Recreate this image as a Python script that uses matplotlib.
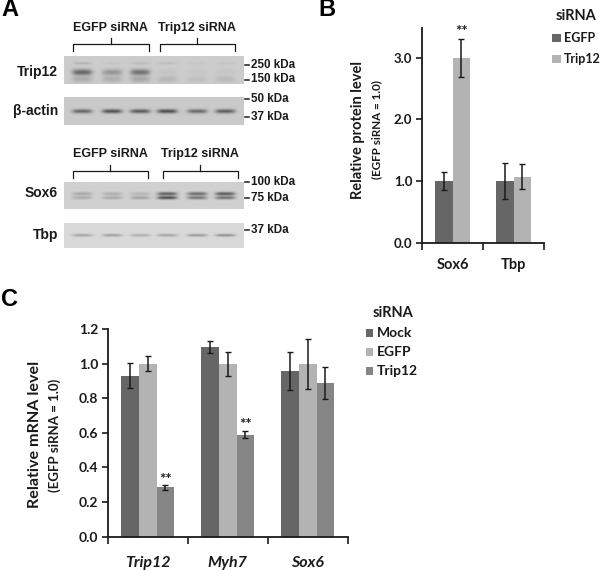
import numpy as np
import matplotlib
matplotlib.use('Agg')
import matplotlib.pyplot as plt

plt.rcParams['font.family'] = ['Lato', 'DejaVu Sans']
W, H = 600, 570
INK = '#1a1a1a'

# panel B
b_groups = ['Sox6', 'Tbp']
b_egfp = [1.0, 1.0]
b_trip12 = [3.0, 1.07]
b_egfp_err = [0.14, 0.29]
b_trip12_err = [0.31, 0.20]
b_ticks = [0.0, 1.0, 2.0, 3.0]

# panel C
c_groups = ['Trip12', 'Myh7', 'Sox6']
c_mock = [0.93, 1.095, 0.96]
c_egfp = [1.0, 1.0, 1.0]
c_trip12 = [0.285, 0.59, 0.89]
c_mock_err = [0.073, 0.033, 0.11]
c_egfp_err = [0.044, 0.07, 0.145]
c_trip12_err = [0.016, 0.022, 0.093]
c_ticks = [0.0, 0.2, 0.4, 0.6, 0.8, 1.0, 1.2]

# western blots, band strength per lane
lanes = [82, 112, 140, 167, 197, 225]
trip12_main = [0.62, 0.34, 0.55, 0.05, 0.03, 0.04]
trip12_upper = [0.16, 0.06, 0.12, 0.10, 0.04, 0.06]
trip12_lower = [0.20, 0.18, 0.22, 0.13, 0.08, 0.11]
actin_band = [0.62, 0.75, 0.70, 0.78, 0.60, 0.68]
sox6_upper = [0.24, 0.20, 0.16, 0.68, 0.62, 0.72]
sox6_lower = [0.22, 0.24, 0.28, 0.80, 0.55, 0.58]
tbp_band = [0.32, 0.34, 0.26, 0.32, 0.38, 0.44]


def px_axes(x0, y0, x1, y1):
    return fig.add_axes([x0 / W, 1 - y1 / H, (x1 - x0) / W, (y1 - y0) / H])


def blot(box, bg, bands):
    # bands: (y position, strength per lane, half width, half height)
    x0, y0, x1, y1 = box
    xx, yy = np.meshgrid(np.arange(x0, x1, 0.5), np.arange(y0, y1, 0.5))
    img = np.full(xx.shape, float(bg))
    for y, strengths, hw, hh in bands:
        for lx, s in zip(lanes, strengths):
            d = np.exp(-((xx - lx) / hw) ** 4 - ((yy - y) / hh) ** 2)
            img -= s * d * bg * 0.8
    over.imshow(img, cmap='gray', vmin=0, vmax=1, aspect='auto',
                extent=(x0, x1, y1, y0), interpolation='bilinear', zorder=1)


def bracket(x0, x1, y, tip=7):
    xm = (x0 + x1) / 2
    over.plot([x0, x0, x1, x1], [y + tip, y, y, y + tip], color=INK, lw=0.9, zorder=3)
    over.plot([xm, xm], [y, y - 6], color=INK, lw=0.9, zorder=3)


def style_axes(ax, ymax, ticks, groups, label_size, tick_size, italic=False):
    n = len(groups)
    ax.set_xlim(0, n)
    ax.set_ylim(0, ymax)
    ax.patch.set_alpha(0)
    for s in ['top', 'right']:
        ax.spines[s].set_visible(False)
    for s in ['left', 'bottom']:
        ax.spines[s].set_linewidth(1.3)
        ax.spines[s].set_color(INK)
    ax.set_xticks(np.arange(n + 1))
    ax.set_xticklabels([])
    ax.set_xticks(np.arange(n) + 0.5, minor=True)
    ax.set_xticklabels(groups, minor=True, fontsize=label_size, fontweight='bold', color=INK,
                       style='italic' if italic else 'normal')
    ax.tick_params(axis='x', which='minor', length=0, pad=14 if italic else 11)
    ax.tick_params(axis='x', which='major', length=5, width=1.2, color=INK)
    ax.set_yticks(ticks)
    ax.set_yticklabels([f'{t:.1f}' for t in ticks], fontsize=tick_size, fontweight='bold', color=INK)
    ax.tick_params(axis='y', length=4, width=1.2, color=INK, pad=3)


def bars(ax, series, errs, colors, width):
    n = len(series)
    x = np.arange(len(series[0])) + 0.5
    for i, (vals, err, col) in enumerate(zip(series, errs, colors)):
        ax.bar(x + (i - (n - 1) / 2) * width, vals, width, color=col, yerr=err,
               error_kw=dict(ecolor=INK, elinewidth=1.1, capsize=2.4, capthick=1.0))


fig = plt.figure(figsize=(W / 100, H / 100), dpi=100)

# overlay in pixel coordinates for the blots and the free text
over = fig.add_axes([0, 0, 1, 1], zorder=0)
over.axis('off')

blot((64, 56, 244, 84), 0.80, [(72, trip12_main, 10, 3.0), (63, trip12_upper, 9, 1.2), (79, trip12_lower, 10, 3.0)])
blot((64, 97, 244, 125), 0.79, [(111, actin_band, 10, 2.0)])
blot((64, 182, 244, 209), 0.82, [(193.5, sox6_upper, 10, 1.7), (197.5, sox6_lower, 10, 1.6)])
blot((64, 223, 244, 248), 0.85, [(235, tbp_band, 10, 1.3)])

over.set_xlim(0, W)
over.set_ylim(H, 0)

sans = ['Liberation Sans', 'DejaVu Sans']
for x, y, s in [(1, 10, 'A'), (318, 10, 'B'), (1, 299, 'C')]:
    over.text(x, y, s, fontsize=17, fontweight='bold', family=sans, va='center', color='black')

for x, y, s in [(110.5, 28, 'EGFP siRNA'), (197, 28, 'Trip12 siRNA'),
                (110, 154, 'EGFP siRNA'), (200, 154, 'Trip12 siRNA')]:
    over.text(x, y, s, fontsize=9, fontweight='bold', family=sans, ha='center', va='center', color=INK)
bracket(73, 148.5, 44)
bracket(160, 234.5, 44)
bracket(72.5, 147.5, 171)
bracket(163, 237.5, 171)

for y, s in [(72, 'Trip12'), (110.5, 'β-actin'), (193, 'Sox6'), (235, 'Tbp')]:
    over.text(58, y, s, fontsize=10, fontweight='bold', family=sans, ha='right', va='center', color=INK)

for y, s in [(65, '250 kDa'), (79.5, '150 kDa'), (99, '50 kDa'), (117, '37 kDa'),
             (182, '100 kDa'), (198, '75 kDa'), (230, '37 kDa')]:
    over.plot([245, 249], [y, y], color=INK, lw=1.1)
    over.text(251, y, s, fontsize=8.4, fontweight='bold', family=sans, va='center', color=INK)

# panel B
ax_b = px_axes(422, 27.7, 544, 242.7)
bars(ax_b, [b_egfp, b_trip12], [b_egfp_err, b_trip12_err], ['#666666', '#b3b3b3'], 0.287)
style_axes(ax_b, 3.49, b_ticks, b_groups, 10.5, 9.5)
ax_b.text(0.5 + 0.287 / 2, 3.30, '**', ha='center', va='bottom', fontsize=11, fontweight='bold', color=INK)

over.text(358, 130, 'Relative protein level', rotation=90, fontsize=10.5, fontweight='bold',
          ha='center', va='center', color=INK)
over.text(377, 130, '(EGFP siRNA = 1.0)', rotation=90, fontsize=8.4, fontweight='bold',
          ha='center', va='center', color=INK)

over.text(556, 16, 'siRNA', fontsize=10.5, fontweight='bold', va='center', color=INK)
for y, c, s in [(38, '#666666', 'EGFP'), (59, '#b3b3b3', 'Trip12')]:
    over.fill([552, 561, 561, 552], [y - 4, y - 4, y + 4, y + 4], color=c, lw=0)
    over.text(564, y, s, fontsize=9, fontweight='bold', va='center', color=INK)

# panel C
ax_c = px_axes(107.7, 329, 347.7, 536.7)
bars(ax_c, [c_mock, c_egfp, c_trip12], [c_mock_err, c_egfp_err, c_trip12_err],
     ['#666666', '#b3b3b3', '#858585'], 0.221)
style_axes(ax_c, 1.2, c_ticks, c_groups, 11.5, 10, italic=True)
for i, top in enumerate([0.29, 0.605]):
    ax_c.text(i + 0.5 + 0.221, top, '**', ha='center', va='bottom', fontsize=11,
              fontweight='bold', color=INK)

over.text(35, 434, 'Relative mRNA level', rotation=90, fontsize=11.6, fontweight='bold',
          ha='center', va='center', color=INK)
over.text(55, 435, '(EGFP siRNA = 1.0)', rotation=90, fontsize=9.5, fontweight='bold',
          ha='center', va='center', color=INK)

over.text(392.5, 313, 'siRNA', fontsize=10.5, fontweight='bold', ha='center', va='center', color=INK)
for y, c, s in [(333, '#666666', 'Mock'), (352, '#b3b3b3', 'EGFP'), (371, '#858585', 'Trip12')]:
    over.fill([366, 373, 373, 366], [y - 4, y - 4, y + 4, y + 4], color=c, lw=0)
    over.text(377, y, s, fontsize=10, fontweight='bold', va='center', color=INK)

plt.savefig('out.png', dpi=100)
plt.close()
